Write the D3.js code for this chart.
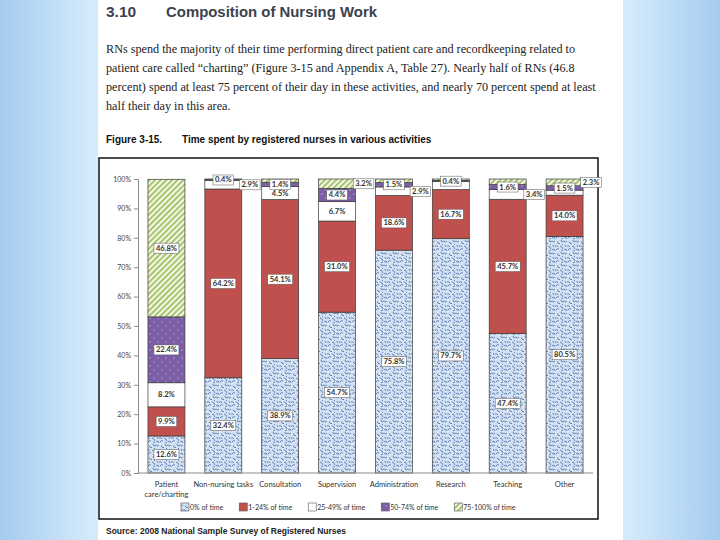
<!DOCTYPE html>
<html>
<head>
<meta charset="utf-8">
<script src="https://cdn.jsdelivr.net/npm/d3@7"></script>
<style>
  body { margin: 0; }
  svg { display: block; }
</style>
</head>
<body>
<div id="chart"></div>
<script>
// chart data
const categories = ["Patient care/charting", "Non-nursing tasks", "Consultation", "Supervision",
  "Administration", "Research", "Teaching", "Other"];
const seriesNames = ["0% of time", "1-24% of time", "25-49% of time", "50-74% of time", "75-100% of time"];
const zeroPct    = [12.6, 32.4, 38.9, 54.7, 75.8, 79.7, 47.4, 80.5];
const pct1to24   = [9.9, 64.2, 54.1, 31.0, 18.6, 16.7, 45.7, 14.0];
const pct25to49  = [8.2, 2.9, 4.5, 6.7, 2.9, 2.7, 3.4, 1.7];
const pct50to74  = [22.4, 0.4, 1.4, 4.4, 1.5, 0.4, 1.6, 1.5];
const pct75to100 = [46.8, 0.1, 1.1, 3.2, 1.2, 0.5, 1.9, 2.3];
// segments drawn without a value label in the figure
const unlabeled = [
  ["Non-nursing tasks", "75-100% of time"], ["Consultation", "75-100% of time"],
  ["Administration", "75-100% of time"], ["Research", "25-49% of time"],
  ["Research", "75-100% of time"], ["Teaching", "75-100% of time"], ["Other", "25-49% of time"]
];
const yTicks = [0, 10, 20, 30, 40, 50, 60, 70, 80, 90, 100];

const paragraph = [
  "RNs spend the majority of their time performing direct patient care and recordkeeping related to",
  "patient care called \u201ccharting\u201d (Figure 3-15 and Appendix A, Table 27). Nearly half of RNs (46.8",
  "percent) spend at least 75 percent of their day in these activities, and nearly 70 percent spend at least",
  "half their day in this area."
];

const W = 720, H = 540;
const svg = d3.select("#chart").append("svg").attr("width", W).attr("height", H);
const defs = svg.append("defs");

// slide background
const bg = defs.append("linearGradient").attr("id", "bg").attr("x1", 0).attr("x2", 1);
bg.append("stop").attr("offset", "0%").attr("stop-color", "#a4ccee");
bg.append("stop").attr("offset", "13%").attr("stop-color", "#d6ebfa");
bg.append("stop").attr("offset", "87%").attr("stop-color", "#d6ebfa");
bg.append("stop").attr("offset", "100%").attr("stop-color", "#a4ccee");
svg.append("rect").attr("width", W).attr("height", H).attr("fill", "url(#bg)");
svg.append("rect").attr("x", 98).attr("y", 0).attr("width", 525).attr("height", H).attr("fill", "#fff");

// fill patterns
const pBlue = defs.append("pattern").attr("id", "pBlue").attr("patternUnits", "userSpaceOnUse")
  .attr("width", 12).attr("height", 12);
pBlue.append("rect").attr("width", 12).attr("height", 12).attr("fill", "#d6e2f1");
pBlue.append("path")
  .attr("d", "M0,1 q1.5,2 3,0 M5,2 l2,2 l1,-1 M9,0 l1,2 l2,-1 M1,5 l1,2 M3,6 q2,-1 3,1 M8,6 l2,1 l1,2 " +
             "M0,10 l2,-1 l1,2 M4,10 q1,-2 3,-1 M9,11 l2,-1 M6,1 l0,0.5 M11,4 l-1,1")
  .attr("stroke", "#4f79b4").attr("stroke-width", 0.9).attr("fill", "none");

const pPurple = defs.append("pattern").attr("id", "pPurple").attr("patternUnits", "userSpaceOnUse")
  .attr("width", 8).attr("height", 8);
pPurple.append("rect").attr("width", 8).attr("height", 8).attr("fill", "#7c5ea7");
pPurple.append("circle").attr("cx", 2).attr("cy", 2).attr("r", 0.6).attr("fill", "#e6def2");
pPurple.append("circle").attr("cx", 6).attr("cy", 6).attr("r", 0.6).attr("fill", "#e6def2");

const pGreen = defs.append("pattern").attr("id", "pGreen").attr("patternUnits", "userSpaceOnUse")
  .attr("width", 4).attr("height", 4).attr("patternTransform", "rotate(45)");
pGreen.append("rect").attr("width", 4).attr("height", 4).attr("fill", "#f3f7e8");
pGreen.append("rect").attr("width", 1.8).attr("height", 4).attr("fill", "#a2bf62");

const fills = {
  "0% of time": "url(#pBlue)",
  "1-24% of time": "#c0504d",
  "25-49% of time": "#ffffff",
  "50-74% of time": "url(#pPurple)",
  "75-100% of time": "url(#pGreen)"
};

// page text
svg.append("text").attr("x", 106).attr("y", 17).text("3.10")
  .style("font", "bold 15.5px 'Liberation Sans', sans-serif").attr("fill", "#3c414d");
svg.append("text").attr("x", 166).attr("y", 17).text("Composition of Nursing Work")
  .attr("textLength", 211).attr("lengthAdjust", "spacingAndGlyphs")
  .style("font", "bold 15.5px 'Liberation Sans', sans-serif").attr("fill", "#3c414d");

svg.append("g").selectAll("text").data(paragraph).enter().append("text")
  .attr("x", 106).attr("y", (d, i) => 53 + i * 19)
  .style("font", "12.2px 'Liberation Serif', serif").attr("fill", "#222")
  .text(d => d);

svg.append("text").attr("x", 106).attr("y", 143).text("Figure 3-15.")
  .style("font", "bold 10px 'Liberation Sans', sans-serif").attr("fill", "#111");
svg.append("text").attr("x", 182).attr("y", 143).text("Time spent by registered nurses in various activities")
  .style("font", "bold 10px 'Liberation Sans', sans-serif").attr("fill", "#111");

svg.append("text").attr("x", 106).attr("y", 534).text("Source: 2008 National Sample Survey of Registered Nurses")
  .style("font", "bold 8.5px 'Liberation Sans', sans-serif").attr("fill", "#222");

// chart frame
svg.append("rect").attr("x", 99).attr("y", 158).attr("width", 499).attr("height", 361)
  .attr("fill", "none").attr("stroke", "#111").attr("stroke-width", 1.5);

// scales
const x = d3.scaleBand().domain(categories).range([138, 593]).paddingInner(0.35).paddingOuter(0.175);
const y = d3.scaleLinear().domain([0, 100]).range([473, 179]);

const rows = categories.map((c, i) => ({
  cat: c,
  "0% of time": zeroPct[i],
  "1-24% of time": pct1to24[i],
  "25-49% of time": pct25to49[i],
  "50-74% of time": pct50to74[i],
  "75-100% of time": pct75to100[i]
}));
const stacked = d3.stack().keys(seriesNames)(rows);

// y axis
const yAxis = svg.append("g").attr("transform", "translate(138,0)")
  .call(d3.axisLeft(y).tickValues(yTicks).tickSize(4).tickFormat(d => d + "%"));
yAxis.select(".domain").attr("stroke", "#8c8c8c");
yAxis.selectAll(".tick line").attr("stroke", "#8c8c8c");
yAxis.selectAll(".tick text").attr("fill", "#444").attr("x", -7)
  .style("font", "7px Lato, sans-serif");

// bars
const layer = svg.append("g").selectAll("g").data(stacked).enter().append("g")
  .attr("fill", d => fills[d.key]);
layer.selectAll("rect").data(d => d.map(v => Object.assign({ key: d.key }, v))).enter().append("rect")
  .attr("x", d => x(d.data.cat))
  .attr("width", x.bandwidth())
  .attr("y", d => y(d[1]))
  .attr("height", d => y(d[0]) - y(d[1]))
  .attr("stroke", "#3a3a3a").attr("stroke-width", 0.7);

// x axis baseline
svg.append("line").attr("x1", 138).attr("x2", 593).attr("y1", y(0)).attr("y2", y(0))
  .attr("stroke", "#8c8c8c").attr("stroke-width", 1);

// value labels
const isUnlabeled = d => unlabeled.some(u => u[0] === d.data.cat && u[1] === d.key);
const labelG = svg.append("g");
stacked.forEach(s => {
  s.forEach(v => {
    const d = Object.assign({ key: s.key }, v);
    if (isUnlabeled(d)) return;
    const val = d[1] - d[0];
    const side = (d.key === "25-49% of time" || d.key === "75-100% of time") && val < 4;
    const cx = side ? x(d.data.cat) + x.bandwidth() + 8 : x(d.data.cat) + x.bandwidth() / 2;
    const cy = y((d[0] + d[1]) / 2);
    const g = labelG.append("g");
    const t = g.append("text").attr("x", cx).attr("y", cy + 2.6)
      .attr("text-anchor", "middle").attr("fill", "#333")
      .style("font", "bold 7.5px Lato, sans-serif")
      .text(val.toFixed(1) + "%");
    const bb = t.node().getBBox();
    const plain = d.key === "25-49% of time" && !side;
    g.insert("rect", "text").attr("x", bb.x - 2).attr("y", bb.y - 0.5)
      .attr("width", bb.width + 4).attr("height", bb.height + 1)
      .attr("fill", "#fff").attr("stroke", plain ? "none" : "#555").attr("stroke-width", 0.5);
  });
});

// category labels
const catG = svg.append("g").selectAll("text").data(categories).enter().append("text")
  .attr("x", d => x(d) + x.bandwidth() / 2).attr("y", 487)
  .attr("text-anchor", "middle").attr("fill", "#333")
  .style("font", "7.5px Lato, sans-serif");
catG.each(function(d) {
  const el = d3.select(this);
  if (d === "Patient care/charting") {
    el.append("tspan").attr("x", x(d) + x.bandwidth() / 2).text("Patient");
    el.append("tspan").attr("x", x(d) + x.bandwidth() / 2).attr("dy", 10).text("care/charting");
  } else {
    el.text(d);
  }
});

// legend
let lx = 181;
seriesNames.forEach(name => {
  const g = svg.append("g");
  g.append("rect").attr("x", lx).attr("y", 503).attr("width", 8).attr("height", 8)
    .attr("fill", fills[name]).attr("stroke", "#555").attr("stroke-width", 0.6);
  const t = g.append("text").attr("x", lx + 9).attr("y", 510).text(name)
    .attr("fill", "#333").style("font", "7px Lato, sans-serif");
  lx += 9 + t.node().getComputedTextLength() + 16;
});
</script>
</body>
</html>
